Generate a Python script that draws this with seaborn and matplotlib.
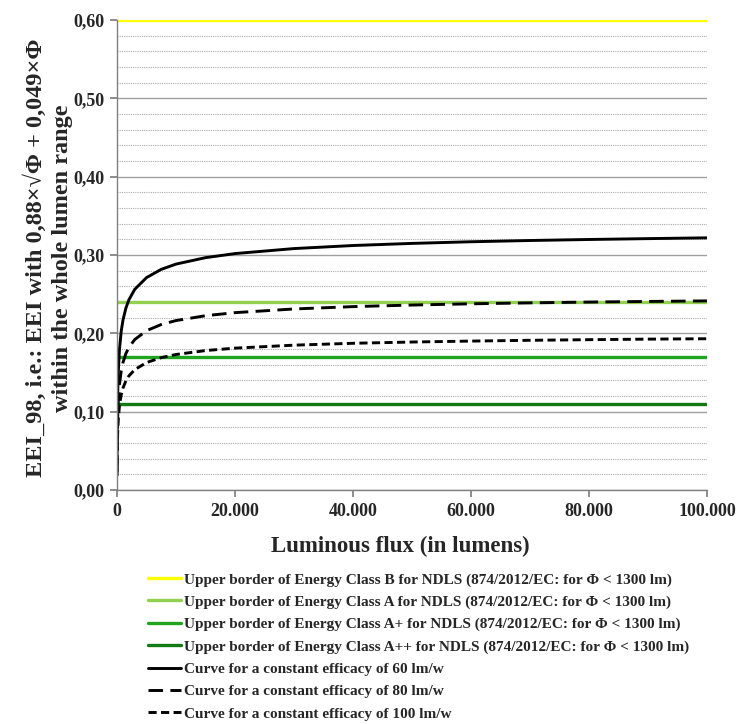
import numpy as np
import pandas as pd
import matplotlib
matplotlib.use("Agg")
import matplotlib.pyplot as plt
import seaborn as sns
from matplotlib.ticker import FuncFormatter, MultipleLocator

# ---- data ----
flux = [3, 10, 25, 50, 100, 200, 400, 700, 1000, 1500, 2000, 3000, 5000, 7500,
        10000, 15000, 20000, 30000, 40000, 50000, 60000, 70000, 80000, 90000, 100000]
eei_60 = [0.0299, 0.0509, 0.0741, 0.0961, 0.1217, 0.1498, 0.1792, 0.2026, 0.2169,
          0.2324, 0.2427, 0.2562, 0.2712, 0.2817, 0.2884, 0.2966, 0.3018, 0.3082,
          0.3121, 0.3148, 0.3169, 0.3185, 0.3198, 0.3209, 0.3219]
eei_80 = [0.0224, 0.0382, 0.0556, 0.0721, 0.0912, 0.1124, 0.1344, 0.1520, 0.1627,
          0.1743, 0.1820, 0.1921, 0.2034, 0.2113, 0.2163, 0.2225, 0.2264, 0.2311,
          0.2341, 0.2361, 0.2377, 0.2389, 0.2399, 0.2407, 0.2414]
eei_100 = [0.0180, 0.0306, 0.0444, 0.0577, 0.0730, 0.0899, 0.1075, 0.1216, 0.1302,
           0.1394, 0.1456, 0.1537, 0.1627, 0.1690, 0.1730, 0.1780, 0.1811, 0.1849,
           0.1873, 0.1889, 0.1901, 0.1911, 0.1919, 0.1926, 0.1931]

border_x = [0, 100000]
border_B = 0.60
border_A = 0.24
border_Ap = 0.17
border_App = 0.11

labels = [
    "Upper border of Energy Class B for NDLS (874/2012/EC: for Φ < 1300 lm)",
    "Upper border of Energy Class A for NDLS (874/2012/EC: for Φ < 1300 lm)",
    "Upper border of Energy Class A+ for NDLS (874/2012/EC: for Φ < 1300 lm)",
    "Upper border of Energy Class A++ for NDLS (874/2012/EC: for Φ < 1300 lm)",
    "Curve for a constant efficacy of 60 lm/w",
    "Curve for a constant efficacy of 80 lm/w",
    "Curve for a constant efficacy of 100 lm/w",
]
x_ticks = [0, 20000, 40000, 60000, 80000, 100000]
y_ticks = [0.0, 0.1, 0.2, 0.3, 0.4, 0.5, 0.6]

sns.set_theme(style="white")
plt.rcParams['font.family'] = ['Liberation Serif', 'DejaVu Serif']
plt.rcParams['font.weight'] = 'bold'

fig = plt.figure(figsize=(7.41, 7.24), dpi=100)
ax = fig.add_axes([0.158, 0.3232, 0.796, 0.6492])

# grid
ax.yaxis.set_major_locator(MultipleLocator(0.1))
ax.yaxis.set_minor_locator(MultipleLocator(0.02))
ax.grid(which='major', axis='y', color='#a0a0a0', linewidth=1.0, linestyle='-')
ax.grid(which='minor', axis='y', color='#aaaaaa', linewidth=0.8, linestyle=(0, (1, 1)))
ax.set_axisbelow(True)

borders = [(border_B, '#FFFF00'), (border_A, '#92D050'), (border_Ap, '#1FA51F'), (border_App, '#137A13')]
for (yv, col), lab in zip(borders, labels[:4]):
    df = pd.DataFrame({'x': border_x, 'y': [yv, yv]})
    sns.lineplot(data=df, x='x', y='y', ax=ax, color=col, linewidth=2.4, label=lab)

curves = [(eei_60, '-'), (eei_80, (0, (5, 2.5))), (eei_100, (0, (2.8, 1.5)))]
for (vals, ls), lab in zip(curves, labels[4:]):
    df = pd.DataFrame({'x': flux, 'y': vals})
    sns.lineplot(data=df, x='x', y='y', ax=ax, color='black', linewidth=2.1,
                 linestyle=ls, label=lab)

ax.set_xlim(0, 100000)
ax.set_ylim(0, 0.6)
ax.set_xticks(x_ticks)
ax.set_yticks(y_ticks)
ax.xaxis.set_major_formatter(FuncFormatter(lambda v, p: f"{int(v):,}".replace(',', '.')))
ax.yaxis.set_major_formatter(FuncFormatter(lambda v, p: f"{v:.2f}".replace('.', ',')))
ax.tick_params(axis='both', which='major', labelsize=13, length=5, color='#808080',
               direction='out', bottom=True, left=True, pad=4)
ax.tick_params(axis='y', which='minor', length=0)
for lbl in ax.get_xticklabels() + ax.get_yticklabels():
    lbl.set_fontweight('bold')

for s in ['top', 'right']:
    ax.spines[s].set_visible(False)
for s in ['left', 'bottom']:
    ax.spines[s].set_color('#808080')
    ax.spines[s].set_linewidth(1.0)

ax.set_xlabel("Luminous flux (in lumens)", fontsize=16.5, fontweight='bold')
ax.xaxis.set_label_coords(0.48, -0.098)
ax.set_ylabel("EEI_98, i.e.: EEI with 0,88×√Φ + 0,049×Φ\nwithin the whole lumen range",
              fontsize=17.5, fontweight='bold', linespacing=1.3)
ax.yaxis.set_label_coords(-0.075, 0.494)

leg = ax.legend(loc='upper left', bbox_to_anchor=(0.042, -0.163), frameon=False,
                fontsize=11, handlelength=2.15, handletextpad=0.2, labelspacing=0.56,
                borderaxespad=0)
for t in leg.get_texts():
    t.set_fontweight('bold')

fig.savefig("out.png", dpi=100)
